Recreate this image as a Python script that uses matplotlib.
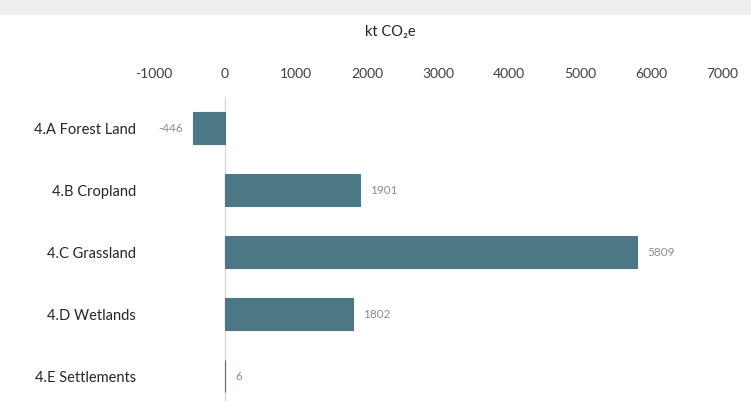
import numpy as np
import matplotlib.pyplot as plt
from matplotlib.patches import Rectangle

plt.rcParams['font.family'] = ['Lato', 'DejaVu Sans']

# data
categories = ['4.A Forest Land', '4.B Cropland', '4.C Grassland', '4.D Wetlands', '4.E Settlements']
values = [-446, 1901, 5809, 1802, 6]
xticks = [-1000, 0, 1000, 2000, 3000, 4000, 5000, 6000, 7000]

bar_color = '#4b7884'

fig = plt.figure(figsize=(7.51, 4.01), dpi=100)
# light grey band on the top edge
fig.patches.append(Rectangle((0, 1 - 15 / 401), 1, 15 / 401, transform=fig.transFigure,
                             facecolor='#efefef', edgecolor='none', zorder=0))

ax = fig.add_axes([154 / 751, 0.0, (722 - 154) / 751, 1 - 97 / 401])
y = np.arange(len(categories))
ax.barh(y, values, height=0.52, color=bar_color, edgecolor=bar_color, linewidth=0.8, zorder=2)

ax.set_xlim(-1000, 7000)
ax.set_ylim(4.4, -0.5)
ax.axvline(0, color='#d9d9d9', linewidth=1, zorder=1)

ax.xaxis.tick_top()
ax.set_xticks(xticks)
ax.set_xticklabels([str(t) for t in xticks], fontsize=10, color='#404040')
ax.tick_params(axis='x', length=0, pad=12)

ax.set_yticks(y)
ax.set_yticklabels(categories, fontsize=10.5, color='#262626')
ax.tick_params(axis='y', length=0, pad=13)

for s in ax.spines.values():
    s.set_visible(False)

for yi, v in zip(y, values):
    if v < 0:
        ax.text(v - 150, yi, str(v), ha='right', va='center', fontsize=8.5, color='#8c8c8c')
    else:
        ax.text(v + 140, yi, str(v), ha='left', va='center', fontsize=8.5, color='#8c8c8c')

fig.text(390 / 751, 1 - 32 / 401, 'kt CO\u2082e', ha='center', va='center', fontsize=10.5, color='#262626')

fig.savefig('out.png', dpi=100)
